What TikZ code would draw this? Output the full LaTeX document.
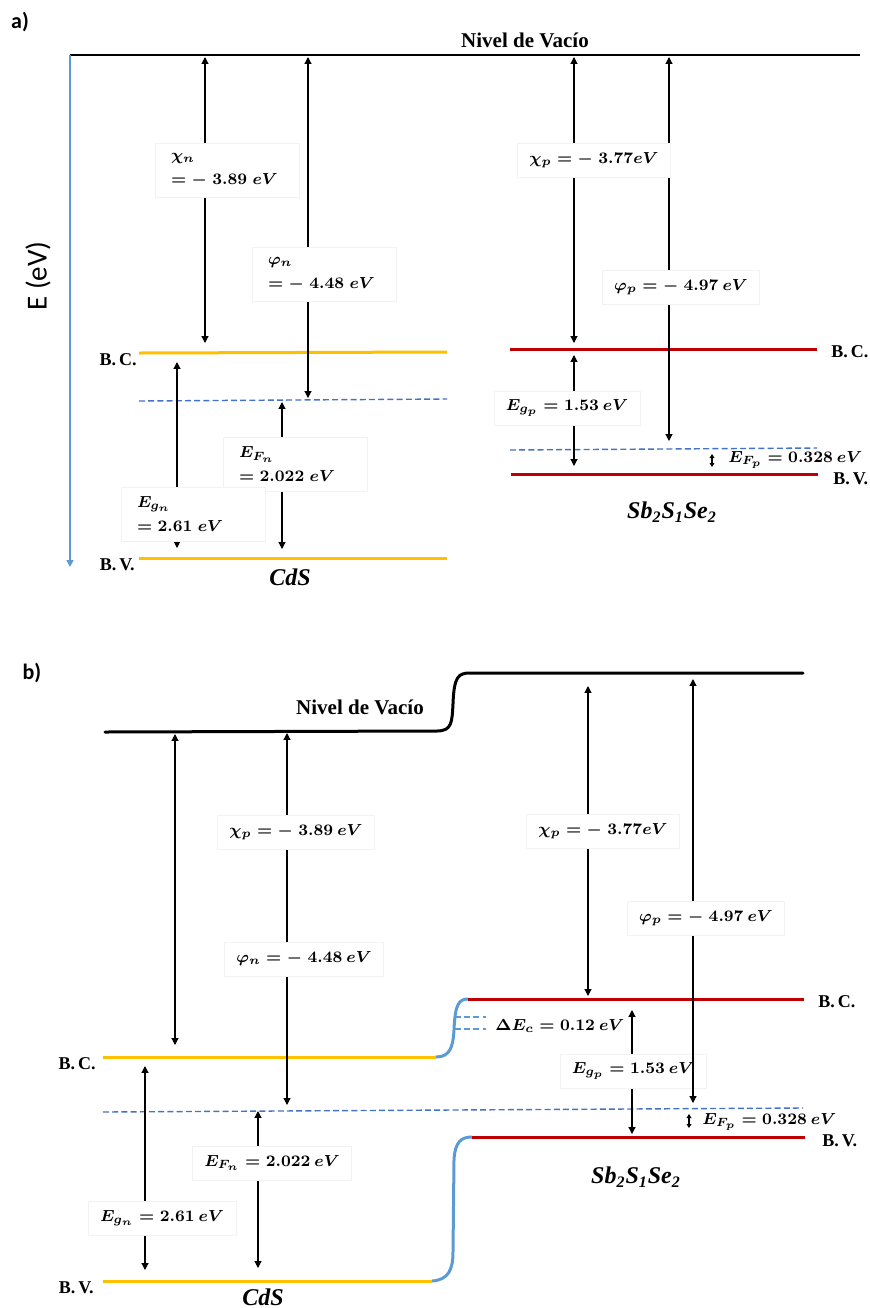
\documentclass[tikz,border=0pt]{standalone}
\usepackage{amsmath}
\usepackage{fontspec}
\setmainfont{Liberation Serif}
\newfontfamily\calibrifont{Carlito}
\usetikzlibrary{calc,arrows.meta}

\definecolor{cdsgold}{HTML}{FFC000}
\definecolor{sbred}{HTML}{C00000}
\definecolor{fermiblue}{HTML}{4472C4}
\definecolor{bendblue}{HTML}{5B9BD5}

\tikzset{
	>={Triangle[length=3.4pt,width=3.4pt]},
	lvlarrow/.style={<->, line width=0.55pt},
	valbox/.style={fill=white, draw=black!5, line width=0.3pt, inner xsep=6pt, inner ysep=3pt,
		minimum height=17pt, font=\fontsize{8}{12}\selectfont\boldmath},
	twoline/.style={valbox, align=left, text width=56pt, inner xsep=8pt, minimum height=27pt},
	vallbl/.style={font=\fontsize{8}{11}\selectfont\boldmath, inner sep=1pt},
	bandlbl/.style={font=\fontsize{9}{11}\selectfont\bfseries, inner sep=1pt},
	matlbl/.style={font=\fontsize{12}{14}\selectfont\bfseries\itshape},
	panellbl/.style={font=\calibrifont\bfseries\fontsize{11}{13}\selectfont},
	cdsband/.style={draw=cdsgold, line width=1.5pt},
	sbband/.style={draw=sbred, line width=1.5pt},
	fermi/.style={draw=fermiblue, line width=0.7pt, dash pattern=on 3pt off 1.6pt},
	bandbend/.style={draw=bendblue, line width=1.5pt, line cap=round},
}

\begin{document}
\begin{tikzpicture}[x=0.5pt, y=-0.5pt]

	\useasboundingbox (0,0) rectangle (870,1308);

	% ---------------- a) ----------------
	\node[panellbl] (tagA) at (20,22) {a)};

	\coordinate (vacA0) at (70,55);
	\coordinate (vacA1) at (860,55);
	\coordinate (axisA) at (70,567);

	\draw[line width=0.8pt] (vacA0) -- (vacA1);
	\draw[draw=bendblue, line width=0.8pt, ->] (vacA0) -- (axisA);
	\node[rotate=90, font=\calibrifont\fontsize{14.5}{16}\selectfont] (axislbl) at (38,276) {E (eV)};
	\node[bandlbl, font=\fontsize{10.5}{12}\selectfont\bfseries] (vacAlbl) at (525,40) {Nivel de Vacío};

	% bands CdS
	\coordinate (bcnA0) at (139,353);
	\coordinate (bcnA1) at (447,352);
	\coordinate (efnA0) at (139,401);
	\coordinate (efnA1) at (447,399);
	\coordinate (bvnA0) at (139,558);
	\coordinate (bvnA1) at (447,558);

	\draw[cdsband] (bcnA0) -- (bcnA1);
	\draw[fermi] (efnA0) -- (efnA1);
	\draw[cdsband] (bvnA0) -- (bvnA1);

	\node[bandlbl, anchor=east] at (139,360) {B.\,C.};
	\node[bandlbl, anchor=east] at (137,565) {B.\,V.};
	\node[matlbl] (cdsA) at (290,577) {CdS};

	% bands Sb2S1Se2
	\coordinate (bcpA0) at (510,349);
	\coordinate (bcpA1) at (817,349);
	\coordinate (efpA0) at (510,450);
	\coordinate (efpA1) at (817,448);
	\coordinate (bvpA0) at (511,474);
	\coordinate (bvpA1) at (818,474);

	\draw[sbband] (bcpA0) -- (bcpA1);
	\draw[fermi] (efpA0) -- (efpA1);
	\draw[sbband] (bvpA0) -- (bvpA1);

	\node[bandlbl, anchor=west] at (829,352) {B.\,C.};
	\node[bandlbl, anchor=west] at (831,479) {B.\,V.};
	\node[matlbl] (sbA) at (672,512) {Sb\textsubscript{2}S\textsubscript{1}Se\textsubscript{2}};

	% arrows
	\coordinate (chinA0) at (205,57);  \coordinate (chinA1) at (205,343);
	\coordinate (phinA0) at (308,57);  \coordinate (phinA1) at (308,398);
	\coordinate (egnA0) at (177,362);  \coordinate (egnA1) at (177,548);
	\coordinate (efnAr0) at (282,402); \coordinate (efnAr1) at (282,549);
	\coordinate (chipA0) at (574,57);  \coordinate (chipA1) at (574,343);
	\coordinate (phipA0) at (669,57);  \coordinate (phipA1) at (669,441);
	\coordinate (egpA0) at (574,355);  \coordinate (egpA1) at (574,466);
	\coordinate (efpAr0) at (712,454); \coordinate (efpAr1) at (712,467);

	\draw[lvlarrow] (chinA0) -- (chinA1);
	\draw[lvlarrow] (phinA0) -- (phinA1);
	\draw[lvlarrow] (egnA0) -- (egnA1);
	\draw[lvlarrow] (efnAr0) -- (efnAr1);
	\draw[lvlarrow] (chipA0) -- (chipA1);
	\draw[lvlarrow] (phipA0) -- (phipA1);
	\draw[lvlarrow] (egpA0) -- (egpA1);
	\draw[lvlarrow, >={Triangle[length=2pt,width=2.4pt]}] (efpAr0) -- (efpAr1);

	\node[twoline] (chinAl) at (227,170) {$\chi_n$\\\mbox{$= -\;3.89\ eV$}};
	\node[twoline] (phinAl) at (324,274) {$\varphi_n$\\\mbox{$= -\;4.48\ eV$}};
	\node[twoline] (efnAl) at (295,464) {$E_{F_n}$\\\mbox{$= 2.022\ eV$}};
	\node[twoline] (egnAl) at (193,514) {$E_{g_n}$\\\mbox{$= 2.61\ eV$}};
	\node[valbox] (chipAl) at (594,160) {$\chi_p = -\;3.77eV$};
	\node[valbox] (phipAl) at (681,287) {$\varphi_p = -\;4.97\ eV$};
	\node[valbox] (egpAl) at (567,408) {$E_{g_p} = 1.53\ eV$};
	\node[vallbl, anchor=west] (efpAl) at (726,460) {$E_{F_p} = 0.328\ eV$};

	% ---------------- b) ----------------
	\node[panellbl] (tagB) at (32,673) {b)};

	\coordinate (vacB0) at (105,732);
	\coordinate (vacB1) at (437,731);
	\coordinate (vacB2) at (470,673);
	\coordinate (vacB3) at (803,673);

	\draw[line width=1.5pt, line cap=round]
		(vacB0) -- (vacB1) .. controls (452,731) and (452,722) .. (453,704)
		.. controls (454,677) and (458,673) .. (vacB2) -- (vacB3);
	\node[bandlbl, font=\fontsize{10.5}{12}\selectfont\bfseries] (vacBlbl) at (360,707) {Nivel de Vacío};

	% bands
	\coordinate (bcnB0) at (103,1057);
	\coordinate (bcnB1) at (436,1057);
	\coordinate (bcpB0) at (468,999);
	\coordinate (bcpB1) at (804,999);
	\coordinate (bvnB0) at (103,1281);
	\coordinate (bvnB1) at (432,1281);
	\coordinate (bvpB0) at (472,1137);
	\coordinate (bvpB1) at (805,1137);
	\coordinate (efB0) at (103,1112);
	\coordinate (efB1) at (803,1108);

	\draw[bandbend] (bcnB1) .. controls (450,1057) and (453,1047) .. (454,1030)
		.. controls (455,1004) and (459,999) .. (bcpB0);
	\draw[bandbend] (bvnB1) .. controls (448,1280) and (453,1270) .. (453,1252)
		-- (454,1160) .. controls (455,1142) and (461,1137) .. (bvpB0);

	\draw[cdsband] (bcnB0) -- (bcnB1);
	\draw[cdsband] (bvnB0) -- (bvnB1);
	\draw[sbband] (bcpB0) -- (bcpB1);
	\draw[sbband] (bvpB0) -- (bvpB1);
	\draw[fermi] (efB0) -- (efB1);

	\coordinate (dec0) at (455,1017); \coordinate (dec1) at (486,1017);
	\coordinate (dev0) at (455,1029); \coordinate (dev1) at (486,1029);
	\draw[fermi, draw=bendblue] (dec0) -- (dec1);
	\draw[fermi, draw=bendblue] (dev0) -- (dev1);
	\node[vallbl, anchor=west] (decl) at (493,1026) {$\Delta E_c = 0.12\ eV$};

	\node[bandlbl, anchor=east] at (98,1064) {B.\,C.};
	\node[bandlbl, anchor=east] at (96,1288) {B.\,V.};
	\node[bandlbl, anchor=west] at (816,1002) {B.\,C.};
	\node[bandlbl, anchor=west] at (820,1141) {B.\,V.};
	\node[matlbl] (cdsB) at (263,1297) {CdS};
	\node[matlbl] (sbB) at (636,1177) {Sb\textsubscript{2}S\textsubscript{1}Se\textsubscript{2}};

	% arrows
	\coordinate (chinB0) at (175,734);  \coordinate (chinB1) at (175,1045);
	\coordinate (phinB0) at (287,733);  \coordinate (phinB1) at (287,1105);
	\coordinate (egnB0) at (145,1066);  \coordinate (egnB1) at (145,1270);
	\coordinate (efnB0) at (258,1111);  \coordinate (efnB1) at (258,1268);
	\coordinate (chipB0) at (588,686);  \coordinate (chipB1) at (588,996);
	\coordinate (phipB0) at (693,679);  \coordinate (phipB1) at (693,1103);
	\coordinate (egpB0) at (632,1010);  \coordinate (egpB1) at (632,1134);
	\coordinate (efpB0) at (689,1114);  \coordinate (efpB1) at (689,1128);

	\draw[lvlarrow] (chinB0) -- (chinB1);
	\draw[lvlarrow] (phinB0) -- (phinB1);
	\draw[lvlarrow] (egnB0) -- (egnB1);
	\draw[lvlarrow] (efnB0) -- (efnB1);
	\draw[lvlarrow] (chipB0) -- (chipB1);
	\draw[lvlarrow] (egpB0) -- (egpB1);
	\draw[lvlarrow, >={Triangle[length=2pt,width=2.4pt]}] (efpB0) -- (efpB1);

	\node[valbox] (chinBl) at (296,832) {$\chi_p = -\;3.89\ eV$};
	\node[valbox] (phinBl) at (304,959) {$\varphi_n = -\;4.48\ eV$};
	\node[valbox] (efnBl) at (272,1163) {$E_{F_n} = 2.022\ eV$};
	\node[valbox] (egnBl) at (162,1218) {$E_{g_n} = 2.61\ eV$};
	\node[valbox] (chipBl) at (603,831) {$\chi_p = -\;3.77eV$};
	\node[valbox] (egpBl) at (633,1071) {$E_{g_p} = 1.53\ eV$};

	% phi_p crosses over the gap box
	\draw[lvlarrow] (phipB0) -- (phipB1);
	\node[valbox] (phipBl) at (706,918) {$\varphi_p = -\;4.97\ eV$};
	\node[vallbl, anchor=west] (efpBl) at (700,1122) {$E_{F_p} = 0.328\ eV$};

\end{tikzpicture}
\end{document}
